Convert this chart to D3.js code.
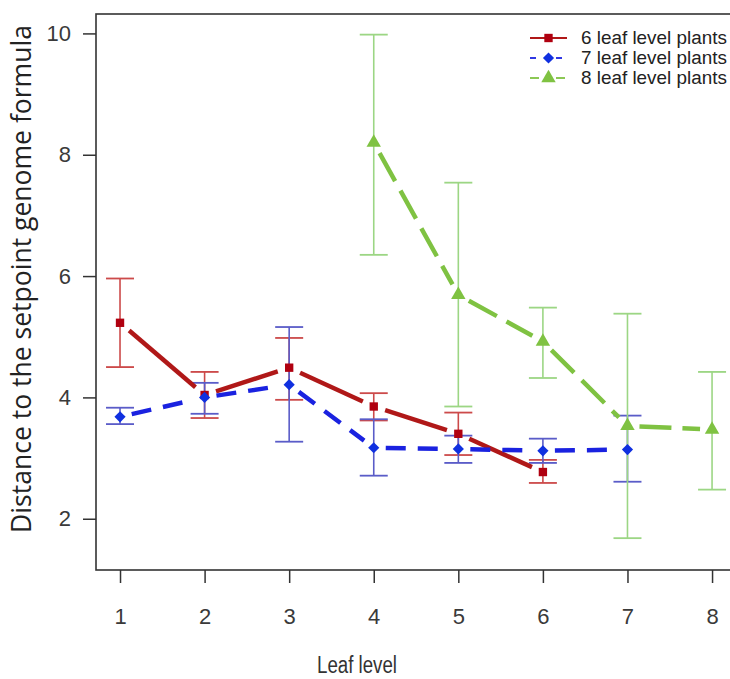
<!DOCTYPE html>
<html>
<head>
<meta charset="utf-8">
<script src="https://cdn.jsdelivr.net/npm/d3@7"></script>
<style>
  html, body { margin: 0; padding: 0; background: #fff; }
  svg { display: block; }
</style>
</head>
<body>
<svg id="chart" width="730" height="679"></svg>
<script>
// ---------- data ----------
const xTicks = [1, 2, 3, 4, 5, 6, 7, 8];
const yTicks = [2, 4, 6, 8, 10];

const levels6 = [1, 2, 3, 4, 5, 6];
const mean6   = [5.23, 4.04, 4.49, 3.85, 3.40, 2.77];
const lo6     = [4.50, 3.66, 3.96, 3.62, 3.05, 2.59];
const hi6     = [5.96, 4.42, 4.98, 4.07, 3.75, 2.97];

const levels7 = [1, 2, 3, 4, 5, 6, 7];
const mean7   = [3.68, 4.00, 4.21, 3.17, 3.15, 3.12, 3.14];
const lo7     = [3.56, 3.73, 3.27, 2.71, 2.92, 2.92, 2.61];
const hi7     = [3.83, 4.24, 5.16, 3.64, 3.37, 3.32, 3.70];

const levels8 = [4, 5, 6, 7, 8];
const mean8   = [8.20, 5.69, 4.92, 3.53, 3.47];
const lo8     = [6.35, 3.85, 4.32, 1.68, 2.48];
const hi8     = [9.98, 7.54, 5.48, 5.38, 4.42];

const seriesNames = ["6 leaf level plants", "7 leaf level plants", "8 leaf level plants"];
const xTitle = "Leaf level";
const yTitle = "Distance to the setpoint genome formula";

// ---------- styles ----------
const diamond = d3.symbolDiamond2 || d3.symbolDiamond;
const styles = [
  { line: "#b01818", point: "#b00010", err: "#cc4a4a", dash: null,    shape: d3.symbolSquare,   size: 70 },
  { line: "#1a22e0", point: "#1030e0", err: "#5a5cc8", dash: "20,12", shape: diamond,          size: 80 },
  { line: "#7fc242", point: "#7fc242", err: "#9cd684", dash: "32,11", shape: d3.symbolTriangle, size: 90 }
];

const series = [
  { x: levels6, m: mean6, lo: lo6, hi: hi6 },
  { x: levels7, m: mean7, lo: lo7, hi: hi7 },
  { x: levels8, m: mean8, lo: lo8, hi: hi8 }
];

// ---------- layout ----------
const svg = d3.select("#chart");
const box = { left: 96, top: 14, right: 737, bottom: 570 };
const xlim = [0.716, 8.295];
const ylim = [1.155, 10.32];
const x = d3.scaleLinear().domain(xlim).range([box.left, box.right]);
const y = d3.scaleLinear().domain(ylim).range([box.bottom, box.top]);

const fontAxis = "'Liberation Sans', Arial, sans-serif";

// box
svg.append("rect")
  .attr("x", box.left).attr("y", box.top)
  .attr("width", box.right - box.left).attr("height", box.bottom - box.top)
  .attr("fill", "none").attr("stroke", "#333").attr("stroke-width", 1.6);

// y axis
const yAxis = svg.append("g")
  .attr("transform", `translate(${box.left},0)`)
  .call(d3.axisLeft(y).tickValues(yTicks).tickSize(13).tickPadding(12).tickFormat(d3.format("d")));
yAxis.select(".domain").remove();
yAxis.selectAll("line").attr("stroke", "#333").attr("stroke-width", 1.5);
yAxis.selectAll("text").attr("font-family", fontAxis).attr("font-size", 22).attr("fill", "#3a3a3a");

// x axis
const xAxis = svg.append("g")
  .attr("transform", `translate(0,${box.bottom})`)
  .call(d3.axisBottom(x).tickValues(xTicks).tickSize(13).tickPadding(25).tickFormat(d3.format("d")));
xAxis.select(".domain").remove();
xAxis.selectAll("line").attr("stroke", "#333").attr("stroke-width", 1.5);
xAxis.selectAll("text").attr("font-family", fontAxis).attr("font-size", 22).attr("fill", "#3a3a3a");

// fit helper
function fitWidth(sel, target) {
  const fs = +sel.attr("font-size");
  const w = sel.node().getComputedTextLength();
  if (w > 0) sel.attr("font-size", fs * target / w);
}

// titles
svg.append("text")
  .attr("x", 357).attr("y", 673)
  .attr("text-anchor", "middle")
  .attr("font-family", fontAxis).attr("font-size", 23).attr("fill", "#333")
  .attr("textLength", 80).attr("lengthAdjust", "spacingAndGlyphs")
  .text(xTitle);

const yt = svg.append("text")
  .attr("transform", "translate(31,279) rotate(-90)")
  .attr("text-anchor", "middle")
  .attr("font-family", "'Open Sans', 'Noto Sans', sans-serif").attr("font-size", 20).attr("fill", "#222")
  .text(yTitle);
fitWidth(yt, 508);

// ---------- marks ----------
const gap = 12;
const capHalf = 14;

// error bars first
series.forEach((s, i) => {
  const st = styles[i];
  const g = svg.append("g").attr("class", "err" + i);
  s.x.forEach((xv, j) => {
    const cx = x(xv);
    g.append("line").attr("x1", cx).attr("x2", cx).attr("y1", y(s.lo[j])).attr("y2", y(s.hi[j]))
      .attr("stroke", st.err).attr("stroke-width", 1.6);
    [s.lo[j], s.hi[j]].forEach(v => {
      g.append("line").attr("x1", cx - capHalf).attr("x2", cx + capHalf).attr("y1", y(v)).attr("y2", y(v))
        .attr("stroke", st.err).attr("stroke-width", 1.8);
    });
  });
});

// lines with gaps (type "b")
series.forEach((s, i) => {
  const st = styles[i];
  const g = svg.append("g").attr("class", "line" + i);
  for (let j = 0; j < s.x.length - 1; j++) {
    const x1 = x(s.x[j]), y1 = y(s.m[j]), x2 = x(s.x[j + 1]), y2 = y(s.m[j + 1]);
    const dx = x2 - x1, dy = y2 - y1, L = Math.hypot(dx, dy);
    if (L <= 2 * gap) continue;
    const ux = dx / L, uy = dy / L;
    const seg = g.append("line")
      .attr("x1", x1 + ux * gap).attr("y1", y1 + uy * gap)
      .attr("x2", x2 - ux * gap).attr("y2", y2 - uy * gap)
      .attr("stroke", st.line).attr("stroke-width", 4.5);
    if (st.dash) seg.attr("stroke-dasharray", st.dash);
  }
});

// points
series.forEach((s, i) => {
  const st = styles[i];
  svg.append("g").selectAll("path").data(s.x.map((xv, j) => [xv, s.m[j]])).join("path")
    .attr("transform", d => `translate(${x(d[0])},${y(d[1])})`)
    .attr("d", d3.symbol().type(st.shape).size(st.size))
    .attr("fill", st.point);
});

// ---------- legend ----------
const leg = svg.append("g").attr("class", "legend");
const legDash = [null, "6,5", "9,5"];
seriesNames.forEach((name, i) => {
  const st = styles[i];
  const ly = 38 + i * 20;
  const gy = leg.append("g");
  if (i === 0) {
    gy.append("line").attr("x1", 530).attr("x2", 567).attr("y1", ly).attr("y2", ly)
      .attr("stroke", st.line).attr("stroke-width", 1.8);
  } else {
    [[530, 541], [556, 567]].forEach(([a, b]) => {
      gy.append("line").attr("x1", a).attr("x2", b).attr("y1", ly).attr("y2", ly)
        .attr("stroke", st.line).attr("stroke-width", 1.8).attr("stroke-dasharray", legDash[i]);
    });
  }
  gy.append("path")
    .attr("transform", `translate(548.5,${ly})`)
    .attr("d", d3.symbol().type(st.shape).size(st.size))
    .attr("fill", st.point);
  const t = gy.append("text")
    .attr("x", 581).attr("y", ly + 6)
    .attr("font-family", fontAxis).attr("font-size", 17).attr("fill", "#222")
    .text(name);
  fitWidth(t, 146);
});
</script>
</body>
</html>
